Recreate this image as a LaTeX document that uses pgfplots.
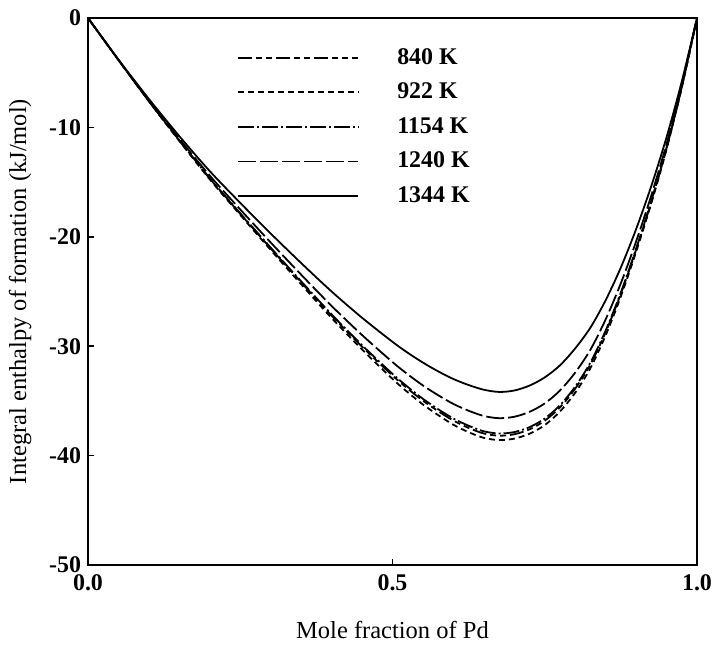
\documentclass[border=0pt]{standalone}
\usepackage{fontspec}
\setmainfont{Liberation Serif}
\usepackage{pgfplots}
\pgfplotsset{compat=1.18}
\begin{document}
\begin{tikzpicture}
\begin{axis}[
  scale only axis,
  width=304.5bp, height=273.5bp,
  xmin=0, xmax=1, ymin=-50, ymax=0,
  xtick={0,0.5,1}, ytick={-50,-40,-30,-20,-10,0},
  xticklabel style={/pgf/number format/fixed,/pgf/number format/fixed zerofill,/pgf/number format/precision=1, yshift=-1.5bp},
  /pgf/number format/assume math mode=true,
  tick pos=left, tick align=inside, major tick length=3bp,
  axis line style={line width=1.2pt},
  tick style={line width=0.8pt,black},
  ticklabel style={font=\fontsize{12}{14}\selectfont\bfseries},
  xlabel={Mole fraction of Pd},
  ylabel={Integral enthalpy of formation (kJ/mol)},
  label style={font=\fontsize{12.3}{14}\selectfont},
  xlabel style={yshift=-8bp},
  ylabel style={yshift=2bp},
  legend style={at={(axis cs:0.235,-2.0)}, anchor=north west, draw=none, fill=none,
     font=\fontsize{12}{14}\selectfont\bfseries, row sep=3.9bp, column sep=17bp},
  legend cell align=left,
  legend image code/.code={\draw[#1] (0bp,0bp) -- (60bp,0bp);},
  every axis plot/.append style={line width=0.9pt, black, smooth},
]
\addplot[dash pattern=on 7pt off 2pt on 3pt off 2pt on 3pt off 2pt] coordinates {
(0,0)(0.05,-3.84)(0.1,-7.60)(0.15,-11.20)(0.2,-14.68)(0.25,-17.90)(0.3,-21.06)(0.35,-24.16)
(0.4,-27.20)(0.45,-30.04)(0.5,-32.68)(0.525,-33.88)(0.55,-34.98)(0.575,-35.94)(0.6,-36.80)
(0.625,-37.47)(0.65,-37.98)(0.675,-38.18)(0.7,-38.05)(0.725,-37.60)(0.75,-36.81)(0.775,-35.59)
(0.8,-33.88)(0.825,-31.66)(0.85,-28.72)(0.875,-25.20)(0.9,-21.18)(0.925,-16.79)(0.95,-11.90)
(0.975,-6.32)(1,0)};
\addlegendentry{840 K}
\addplot[dash pattern=on 3pt off 2pt] coordinates {
(0,0)(0.05,-3.84)(0.1,-7.62)(0.15,-11.24)(0.2,-14.75)(0.25,-18.00)(0.3,-21.20)(0.35,-24.34)
(0.4,-27.42)(0.45,-30.30)(0.5,-32.99)(0.525,-34.21)(0.55,-35.33)(0.575,-36.30)(0.6,-37.18)
(0.625,-37.86)(0.65,-38.38)(0.675,-38.58)(0.7,-38.45)(0.725,-38.00)(0.75,-37.21)(0.775,-35.97)
(0.8,-34.25)(0.825,-32.00)(0.85,-29.01)(0.875,-25.44)(0.9,-21.37)(0.925,-16.93)(0.95,-12.00)
(0.975,-6.37)(1,0)};
\addlegendentry{922 K}
\addplot[dash pattern=on 8pt off 1.5pt on 1pt off 1.5pt] coordinates {
(0,0)(0.05,-3.84)(0.1,-7.59)(0.15,-11.18)(0.2,-14.65)(0.25,-17.85)(0.3,-20.99)(0.35,-24.07)
(0.4,-27.09)(0.45,-29.91)(0.5,-32.53)(0.525,-33.72)(0.55,-34.81)(0.575,-35.76)(0.6,-36.61)
(0.625,-37.27)(0.65,-37.78)(0.675,-37.98)(0.7,-37.85)(0.725,-37.40)(0.75,-36.61)(0.775,-35.40)
(0.8,-33.70)(0.825,-31.49)(0.85,-28.57)(0.875,-25.08)(0.9,-21.09)(0.925,-16.72)(0.95,-11.85)
(0.975,-6.29)(1,0)};
\addlegendentry{1154 K}
\addplot[dash pattern=on 9pt off 2pt] coordinates {
(0,0)(0.05,-3.82)(0.1,-7.52)(0.15,-11.04)(0.2,-14.41)(0.25,-17.50)(0.3,-20.52)(0.35,-23.46)
(0.4,-26.32)(0.45,-28.98)(0.5,-31.45)(0.525,-32.57)(0.55,-33.59)(0.575,-34.48)(0.6,-35.28)
(0.625,-35.90)(0.65,-36.38)(0.675,-36.58)(0.7,-36.45)(0.725,-36.00)(0.75,-35.23)(0.775,-34.05)
(0.8,-32.41)(0.825,-30.32)(0.85,-27.55)(0.875,-24.24)(0.9,-20.43)(0.925,-16.21)(0.95,-11.50)
(0.975,-6.11)(1,0)};
\addlegendentry{1240 K}
\addplot[solid] coordinates {
(0,0)(0.05,-3.8)(0.1,-7.4)(0.15,-10.8)(0.2,-14.0)(0.25,-16.9)(0.3,-19.7)(0.35,-22.4)
(0.4,-25.0)(0.45,-27.4)(0.5,-29.6)(0.525,-30.6)(0.55,-31.5)(0.575,-32.3)(0.6,-33.0)
(0.625,-33.55)(0.65,-33.98)(0.675,-34.18)(0.7,-34.05)(0.725,-33.6)(0.75,-32.85)(0.775,-31.75)
(0.8,-30.2)(0.825,-28.3)(0.85,-25.8)(0.875,-22.8)(0.9,-19.3)(0.925,-15.35)(0.95,-10.9)
(0.975,-5.8)(1,0)};
\addlegendentry{1344 K}
\coordinate (bl) at (rel axis cs:0,0);
\end{axis}
\pgfresetboundingbox
\path (bl) ++(-44bp,-40bp) rectangle ++(356.5bp,322.5bp);
\end{tikzpicture}
\end{document}
